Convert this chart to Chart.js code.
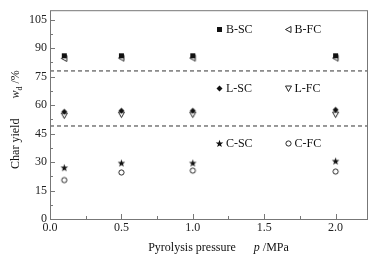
<!DOCTYPE html>
<html>
<head>
<meta charset="utf-8">
<script src="https://cdn.jsdelivr.net/npm/chart.js@4"></script>
<style>
  html, body { margin: 0; padding: 0; background: #fff; }
  #wrap { width: 377px; height: 260px; }
</style>
</head>
<body>
<div id="wrap"><canvas id="charChart"></canvas></div>
<script>
// Pyrolysis pressure (MPa)
const pressures = [0.1, 0.5, 1.0, 2.0];
// Char yield w_d (%)
const bSC = [86, 86, 86, 86];
const bFC = [84.6, 84.8, 84.8, 84.8];
const lSC = [56.5, 57, 57, 57.5];
const lFC = [54.5, 55, 55, 55];
const cSC = [27, 29.5, 29.5, 30.5];
const cFC = [20.5, 24.5, 25.5, 25];
// dashed separators between groups
const separators = [78, 49];

const xMax = 2.22;
const yMax = 110;
const serif = '"Liberation Serif", "DejaVu Serif", serif';
const ink = '#111';

// small canvases used as point styles
const makeMarker = (draw) => {
    const c = document.createElement('canvas');
    c.width = 9; c.height = 9;
    const g = c.getContext('2d');
    g.fillStyle = ink;
    g.strokeStyle = ink;
    g.lineWidth = 0.9;
    draw(g);
    return c;
};
const markers = {
    square: makeMarker(g => g.fillRect(2, 2, 5, 5)),
    triLeft: makeMarker(g => {
        g.beginPath(); g.moveTo(1.5, 4.5); g.lineTo(7, 1.5); g.lineTo(7, 7.5); g.closePath(); g.stroke();
    }),
    diamond: makeMarker(g => {
        g.beginPath(); g.moveTo(4.5, 1.5); g.lineTo(7.5, 4.5); g.lineTo(4.5, 7.5); g.lineTo(1.5, 4.5); g.closePath(); g.fill();
    }),
    triDown: makeMarker(g => {
        g.beginPath(); g.moveTo(1.5, 2); g.lineTo(7.5, 2); g.lineTo(4.5, 7.5); g.closePath(); g.stroke();
    }),
    star: makeMarker(g => {
        g.beginPath();
        for (let i = 0; i < 10; i++) {
            const r = i % 2 ? 1.6 : 4;
            const a = -Math.PI / 2 + i * Math.PI / 5;
            g.lineTo(4.5 + r * Math.cos(a), 4.8 + r * Math.sin(a));
        }
        g.closePath(); g.fill();
    }),
    circle: makeMarker(g => {
        g.beginPath(); g.arc(4.5, 4.5, 2.6, 0, Math.PI * 2); g.stroke();
    })
};

const series = [
    { label: 'B-SC', data: bSC, marker: 'square', lx: 1.19, ly: 100 },
    { label: 'B-FC', data: bFC, marker: 'triLeft', lx: 1.67, ly: 100 },
    { label: 'L-SC', data: lSC, marker: 'diamond', lx: 1.19, ly: 69 },
    { label: 'L-FC', data: lFC, marker: 'triDown', lx: 1.67, ly: 69 },
    { label: 'C-SC', data: cSC, marker: 'star', lx: 1.19, ly: 40 },
    { label: 'C-FC', data: cFC, marker: 'circle', lx: 1.67, ly: 40 }
];

const datasets = series.map(s => ({
    label: s.label,
    data: s.data.map((v, i) => ({ x: pressures[i], y: v })),
    pointStyle: markers[s.marker],
    showLine: false
}));
separators.forEach(v => datasets.push({
    label: 'sep',
    data: [{ x: 0, y: v }, { x: xMax, y: v }],
    showLine: true,
    pointRadius: 0,
    borderColor: '#333',
    borderWidth: 1,
    borderDash: [4, 3]
}));

// frame, inward tick marks, labels and axis titles
const decorPlugin = {
    id: 'decor',
    afterDatasetsDraw(chart) {
        const { ctx, chartArea: a, scales } = chart;
        const xs = scales.x, ys = scales.y;
        ctx.save();
        ctx.strokeStyle = '#777';
        ctx.lineWidth = 1;
        ctx.strokeRect(a.left + 0.5, a.top + 0.5, a.right - a.left, a.bottom - a.top);
        ctx.beginPath();
        for (let v = 0.25; v < xMax; v += 0.25) {
            const px = Math.round(xs.getPixelForValue(v)) + 0.5;
            const len = Math.abs(v * 2 - Math.round(v * 2)) < 1e-6 ? 5 : 3;
            ctx.moveTo(px, a.bottom); ctx.lineTo(px, a.bottom - len);
        }
        for (let v = 7.5; v < yMax; v += 7.5) {
            const py = Math.round(ys.getPixelForValue(v)) + 0.5;
            const len = Math.round(v / 15) * 15 === v ? 5 : 3;
            ctx.moveTo(a.left, py); ctx.lineTo(a.left + len, py);
        }
        ctx.stroke();

        // in-plot labels
        ctx.fillStyle = ink;
        ctx.font = '12px ' + serif;
        ctx.textBaseline = 'middle';
        series.forEach(s => {
            const px = xs.getPixelForValue(s.lx), py = ys.getPixelForValue(s.ly);
            ctx.drawImage(markers[s.marker], Math.round(px - 4.5), Math.round(py - 4.5));
            ctx.fillText(s.label, px + 6, py + 1);
        });

        // y title
        ctx.save();
        ctx.translate(16, (a.top + a.bottom) / 2 + 5);
        ctx.rotate(-Math.PI / 2);
        ctx.textBaseline = 'middle';
        ctx.font = '12px ' + serif;
        const t1 = 'Char yield';
        const w1 = ctx.measureText(t1).width;
        ctx.font = 'italic 12px ' + serif;
        const wW = ctx.measureText('w').width;
        ctx.font = '8px ' + serif;
        const wd = ctx.measureText('d').width;
        ctx.font = '12px ' + serif;
        const t2 = ' /%';
        const w2 = ctx.measureText(t2).width;
        const gap = 20;
        let x0 = -(w1 + gap + wW + wd + w2) / 2;
        ctx.fillText(t1, x0, 0); x0 += w1 + gap;
        ctx.font = 'italic 12px ' + serif;
        ctx.fillText('w', x0, 0); x0 += wW;
        ctx.font = '8px ' + serif;
        ctx.fillText('d', x0, 4); x0 += wd;
        ctx.font = '12px ' + serif;
        ctx.fillText(t2, x0, 0);
        ctx.restore();

        // x title
        ctx.font = '12px ' + serif;
        ctx.textBaseline = 'middle';
        const s1 = 'Pyrolysis pressure';
        const ws1 = ctx.measureText(s1).width;
        ctx.font = 'italic 12px ' + serif;
        const wp = ctx.measureText('p').width;
        ctx.font = '12px ' + serif;
        const s2 = ' /MPa';
        const ws2 = ctx.measureText(s2).width;
        const g2 = 18;
        let xx = (a.left + a.right) / 2 + 10 - (ws1 + g2 + wp + ws2) / 2;
        const yy = a.bottom + 29;
        ctx.fillText(s1, xx, yy); xx += ws1 + g2;
        ctx.font = 'italic 12px ' + serif;
        ctx.fillText('p', xx, yy); xx += wp;
        ctx.font = '12px ' + serif;
        ctx.fillText(s2, xx, yy);
        ctx.restore();
    }
};

new Chart(document.getElementById('charChart'), {
    type: 'scatter',
    data: { datasets },
    options: {
        responsive: true,
        maintainAspectRatio: false,
        animation: false,
        layout: { padding: { left: 0, top: 10, right: 10, bottom: 0 } },
        plugins: { legend: { display: false }, tooltip: { enabled: false } },
        elements: { point: { radius: 4 } },
        scales: {
            x: {
                type: 'linear',
                min: 0,
                max: xMax,
                ticks: {
                    stepSize: 0.5,
                    includeBounds: false,
                    color: '#222',
                    font: { family: serif, size: 12 },
                    padding: 2,
                    callback: v => v.toFixed(1)
                },
                grid: { display: false, drawTicks: false },
                border: { display: false },
                afterFit: s => { s.height = 41; }
            },
            y: {
                min: 0,
                max: yMax,
                ticks: {
                    stepSize: 15,
                    includeBounds: false,
                    color: '#222',
                    font: { family: serif, size: 12 },
                    padding: 3
                },
                grid: { display: false, drawTicks: false },
                border: { display: false },
                afterFit: s => { s.width = 50; }
            }
        }
    },
    plugins: [decorPlugin]
});
</script>
</body>
</html>
